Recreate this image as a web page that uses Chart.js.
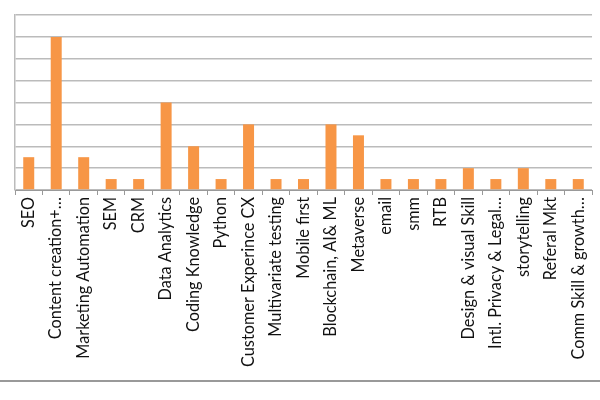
<!DOCTYPE html>
<html>
<head>
<meta charset="utf-8">
<script src="https://cdn.jsdelivr.net/npm/chart.js@4"></script>
<style>
  html,body{margin:0;padding:0;background:#fff;}
  #wrap{position:relative;width:600px;height:380px;border-bottom:2px solid #999;}
</style>
</head>
<body>
<div id="wrap"><canvas id="c" width="600" height="380"></canvas></div>
<script>
const categories = ["SEO","Content creation+…","Marketing Automation","SEM","CRM","Data Analytics","Coding Knowledge","Python","Customer Experince CX","Multivariate testing","Mobile first","Blockchain, AI& ML","Metaverse","email","smm","RTB","Design & visual Skill","Intl. Privacy & Legal…","storytelling","Referal Mkt","Comm Skill & growth…"];
const counts = [3,14,3,1,1,8,4,1,6,1,1,6,5,1,1,1,2,1,2,1,1];
const yMax = 16;
const yStep = 2;

new Chart(document.getElementById('c'), {
  type: 'bar',
  data: {
    labels: categories,
    datasets: [{ data: counts, backgroundColor: '#F79646', borderWidth: 0, categoryPercentage: 0.8, barPercentage: 0.5 }]
  },
  options: {
    responsive: false,
    animation: false,
    layout: { padding: { top: 15, right: 7, left: 1, bottom: 0 } },
    plugins: { legend: { display: false }, tooltip: { enabled: false } },
    scales: {
      x: {
        grid: { display: true, drawOnChartArea: false, drawTicks: true, tickLength: 5, color: '#999', offset: true },
        border: { color: '#999', width: 1 },
        ticks: { color: '#111', font: { family: 'Lato', size: 16.3 }, maxRotation: 90, minRotation: 90, autoSkip: false, padding: 2 },
        afterFit: s => { s.height = 190; }
      },
      y: {
        min: 0, max: yMax,
        ticks: { stepSize: yStep, display: false },
        grid: { color: '#bbb', lineWidth: 1.5, drawTicks: false },
        border: { color: '#bbb', width: 1.5 },
        afterFit: s => { s.width = 14; }
      }
    }
  }
});
</script>
</body>
</html>
